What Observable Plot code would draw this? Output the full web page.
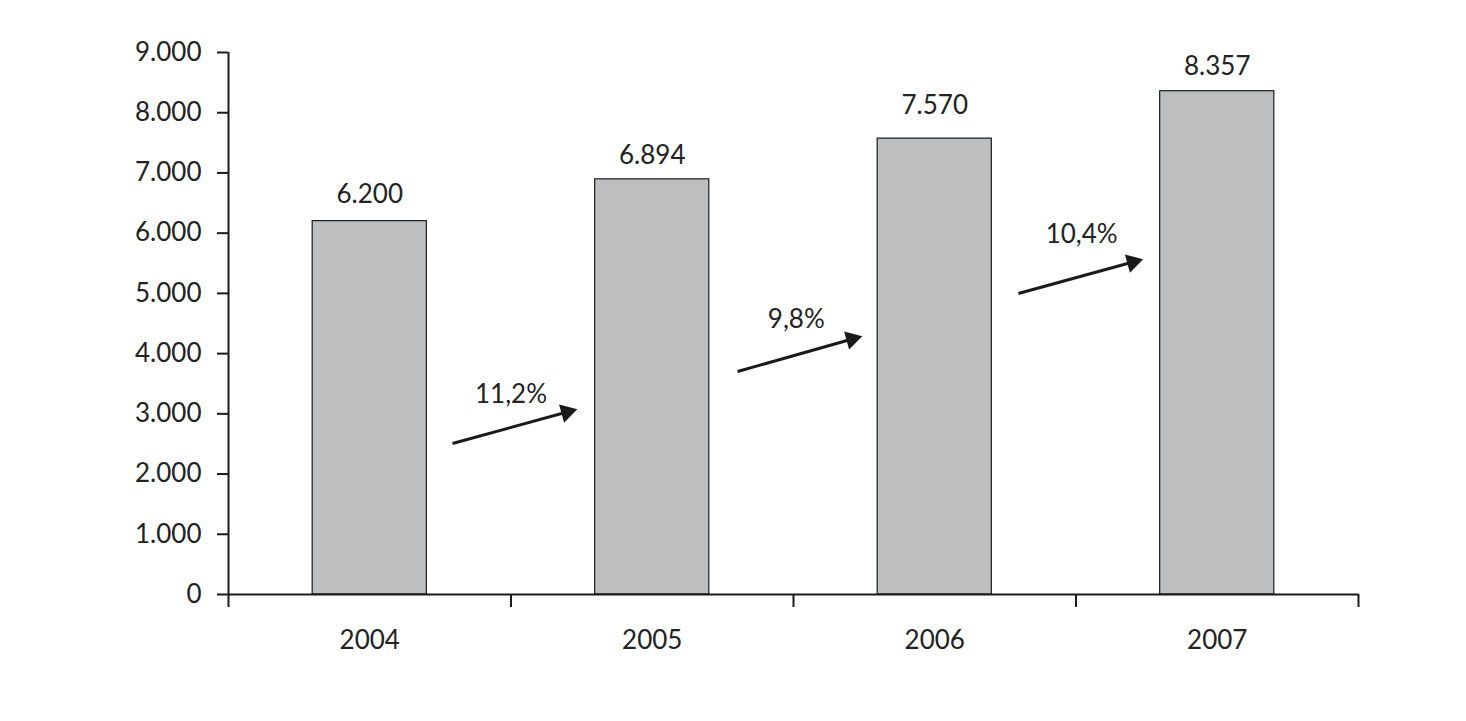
<!DOCTYPE html>
<html>
<head>
<meta charset="utf-8">
<script src="https://cdn.jsdelivr.net/npm/d3@7"></script>
<script src="https://cdn.jsdelivr.net/npm/@observablehq/plot@0.6"></script>
<style>
  html, body { margin: 0; padding: 0; background: #fff; }
  #chart svg { display: block; font-family: Lato, "Open Sans", sans-serif; }
</style>
</head>
<body>
<div id="chart"></div>
<script>
// Data
const years = [2004, 2005, 2006, 2007];
const values = [6200, 6894, 7570, 8357];
const yTicks = [0, 1000, 2000, 3000, 4000, 5000, 6000, 7000, 8000, 9000];
// Growth annotations (between consecutive years)
const growthLabels = ["11,2%", "9,8%", "10,4%"];
const growthFrom = [2004, 2005, 2006];
// annotation anchors in data units
const valueLabelY = [6640, 7290, 8120, 8760];
const arrowStartX = [2004.293, 2005.302, 2006.296];
const arrowEndX = [2004.718, 2005.727, 2006.721];
const arrowStartY = [2507, 3703, 4998];
const arrowEndY = [3055, 4268, 5546];
const growthLabelX = [2004.5, 2005.51, 2006.52];
const growthLabelY = [3315, 4558, 5967];

const fmt = d => d === 0 ? "0" : d3.format(",")(d).replace(/,/g, ".");

const bars = years.map((year, i) => ({year, value: values[i], labelY: valueLabelY[i], label: fmt(values[i])}));
const arrows = growthFrom.map((y, i) => ({
  x1: arrowStartX[i], y1: arrowStartY[i], x2: arrowEndX[i], y2: arrowEndY[i],
  lx: growthLabelX[i], ly: growthLabelY[i], label: growthLabels[i]
}));

const boundaries = [2003.5, 2004.5, 2005.5, 2006.5, 2007.5];
const angle = Math.atan2(33, 120) * 180 / Math.PI; // arrow slope in px
const FS = 26;

const chart = Plot.plot({
  width: 1466,
  height: 721,
  marginLeft: 228,
  marginRight: 108,
  marginTop: 52,
  marginBottom: 127,
  style: {fontFamily: "Lato, 'Open Sans', sans-serif", fontSize: FS + "px", color: "#222", background: "#fff"},
  x: {type: "linear", domain: [2003.5, 2007.5]},
  y: {domain: [0, 9000]},
  marks: [
    Plot.rectY(bars, {x1: d => d.year - 0.202, x2: d => d.year + 0.202, y1: 0, y2: "value", fill: "#bebfc1", stroke: "#1a1a1a", strokeWidth: 1.2}),
    Plot.axisY({ticks: yTicks, tickFormat: fmt, tickSize: 11, tickPadding: 16, strokeWidth: 2, stroke: "#1a1a1a", fill: "#222", fontSize: FS, label: null}),
    Plot.axisX({ticks: boundaries, tickFormat: () => "", tickSize: 13, strokeWidth: 2, stroke: "#1a1a1a", label: null}),
    Plot.ruleX([2003.5], {y1: 0, y2: 9000, stroke: "#1a1a1a", strokeWidth: 2}),
    Plot.ruleY([0], {stroke: "#1a1a1a", strokeWidth: 2}),
    Plot.text(years, {x: d => d, y: 0, dy: 46, text: d => String(d), fontSize: FS, fill: "#222"}),
    Plot.text(bars, {x: "year", y: "labelY", text: "label", fontSize: FS, fill: "#222"}),
    Plot.link(arrows, {x1: "x1", y1: "y1", x2: "x2", y2: "y2", stroke: "#1a1a1a", strokeWidth: 3, insetEnd: 9}),
    Plot.dot(arrows, {x: "x2", y: "y2", symbol: "triangle", r: 7, fill: "#1a1a1a", stroke: "none",
      rotate: 90 - angle, dx: -6 * Math.cos(angle * Math.PI / 180), dy: 6 * Math.sin(angle * Math.PI / 180)}),
    Plot.text(arrows, {x: "lx", y: "ly", text: "label", fontSize: FS, fill: "#222"})
  ]
});
document.getElementById("chart").appendChild(chart);
</script>
</body>
</html>
